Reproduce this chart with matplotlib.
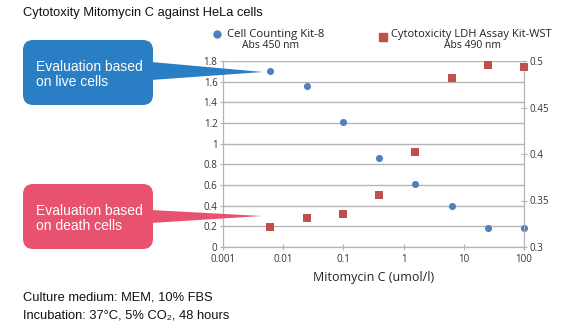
import numpy as np
import matplotlib.pyplot as plt
from matplotlib.patches import FancyBboxPatch, Polygon
from matplotlib.lines import Line2D

# data
conc = [0.0061, 0.0244, 0.0977, 0.39, 1.5625, 6.25, 25, 100]
cck8 = [1.70, 1.555, 1.213, 0.858, 0.607, 0.394, 0.188, 0.181]
ldh = [0.3215, 0.331, 0.335, 0.356, 0.402, 0.482, 0.496, 0.494]

x_ticks = [0.001, 0.01, 0.1, 1, 10, 100]
x_labels = ['0.001', '0.01', '0.1', '1', '10', '100']
left_ticks = [0, 0.2, 0.4, 0.6, 0.8, 1.0, 1.2, 1.4, 1.6, 1.8]
left_labels = ['0', '0.2', '0.4', '0.6', '0.8', '1', '1.2', '1.4', '1.6', '1.8']
right_ticks = [0.3, 0.35, 0.4, 0.45, 0.5]
right_labels = ['0.3', '0.35', '0.4', '0.45', '0.5']

BLUE = '#4f81bd'
RED = '#c0504d'
GRID = '#b4b4b4'
ARIAL = ['Liberation Sans', 'DejaVu Sans']
SANS = ['Open Sans', 'DejaVu Sans']
W, H = 568, 331


def fx(px):
    return px / W


def fy(py):
    return 1 - py / H


fig = plt.figure(figsize=(W / 100, H / 100), dpi=100)
ax = fig.add_axes([fx(223), fy(247), (524 - 223) / W, (247 - 61) / H])
ax2 = ax.twinx()

ax.set_xscale('log')
ax.set_xlim(0.001, 100)
ax.set_ylim(0, 1.8)
ax2.set_ylim(0.3, 0.5)

for y in left_ticks:
    ax.axhline(y, color=GRID, linewidth=1.0, zorder=0)

ax.scatter(conc, cck8, s=26, color=BLUE, zorder=3, linewidths=0, clip_on=False)
ax2.scatter(conc, ldh, s=30, marker='s', color=RED, zorder=3, linewidths=0,
            clip_on=False)

ax.set_xticks(x_ticks)
ax.set_xticklabels(x_labels)
ax.xaxis.set_minor_locator(plt.NullLocator())
ax.set_yticks(left_ticks)
ax.set_yticklabels(left_labels)
ax2.set_yticks(right_ticks)
ax2.set_yticklabels(right_labels)

for a in (ax, ax2):
    for s in a.spines.values():
        s.set_color(GRID)
    a.spines['top'].set_visible(False)
    a.tick_params(labelsize=7, colors='#333333', length=4, direction='inout',
                  color=GRID, pad=2)
    a.patch.set_visible(False)
ax.tick_params(axis='x', pad=3)
for lbl in ax.get_xticklabels() + ax.get_yticklabels() + ax2.get_yticklabels():
    lbl.set_family(SANS)

ax.set_xlabel('Mitomycin C (umol/l)', fontsize=9, color='#222222',
              family=SANS, labelpad=4)

# title and notes
fig.text(fx(23), fy(13), 'Cytotoxity Mitomycin C against HeLa cells', fontsize=9.3,
         family=ARIAL, va='center', ha='left', color='#111111')
fig.text(fx(23), fy(298), 'Culture medium: MEM, 10% FBS', fontsize=9.3,
         family=ARIAL, va='center', ha='left', color='#111111')
fig.text(fx(23), fy(315), 'Incubation: 37\u00b0C, 5% CO\u2082, 48 hours',
         fontsize=9.3, family=ARIAL, va='center', ha='left', color='#111111')

# legend
fig.add_artist(Line2D([fx(217)], [fy(34)], marker='o', markersize=5, color=BLUE,
                      linestyle='none', transform=fig.transFigure))
fig.text(fx(227), fy(34), 'Cell Counting Kit-8', fontsize=8.2,
         family=SANS, va='center', color='#222222')
fig.text(fx(271), fy(46), 'Abs 450 nm', fontsize=7.5,
         family=SANS, va='center', ha='center', color='#222222')
fig.add_artist(Line2D([fx(383)], [fy(37)], marker='s', markersize=5.5, color=RED,
                      linestyle='none', transform=fig.transFigure))
fig.text(fx(391), fy(35), 'Cytotoxicity LDH Assay Kit-WST', fontsize=8.0,
         family=SANS, va='center', color='#222222')
fig.text(fx(472), fy(46), 'Abs 490 nm', fontsize=7.5,
         family=SANS, va='center', ha='center', color='#222222')


def callout(x0, y0, x1, y1, base0, base1, tip, color, text):
    box = FancyBboxPatch((fx(x0), fy(y1)), fx(x1 - x0), (y1 - y0) / H,
                         boxstyle='round,pad=0,rounding_size=0.018',
                         transform=fig.transFigure, facecolor=color,
                         edgecolor='none', mutation_aspect=W / H)
    fig.add_artist(box)
    tri = Polygon([(fx(x1 - 2), fy(base0)), (fx(tip[0]), fy(tip[1])),
                   (fx(x1 - 2), fy(base1))], closed=True,
                  transform=fig.transFigure, facecolor=color, edgecolor='none')
    fig.add_artist(tri)
    fig.text(fx(36), fy((y0 + y1) / 2 + 2), text, fontsize=10, family=ARIAL,
             color='white', va='center', ha='left', linespacing=1.15)


callout(23, 40, 153, 105, 62, 80, (263, 72), '#2a7ec4',
        'Evaluation based\non live cells')
callout(23, 184, 153, 249, 210, 223, (262, 216), '#e8526e',
        'Evaluation based\non death cells')

fig.savefig('out.png', dpi=100)
